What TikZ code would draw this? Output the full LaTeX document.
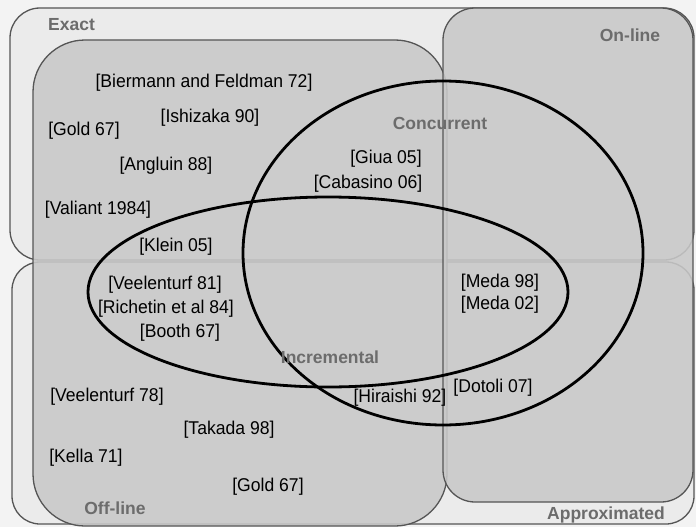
\documentclass[tikz,border=0pt]{standalone}
\usepackage{fontspec}
\setmainfont{Liberation Sans}
\newfontfamily\citefnt[FakeStretch=0.95]{Liberation Sans}
\definecolor{bgc}{HTML}{F3F3F3}
\definecolor{framefill}{HTML}{EBEBEB}
\definecolor{regfill}{HTML}{C8C8C8}
\definecolor{edgec}{HTML}{555555}
\definecolor{labc}{HTML}{6C6C6C}
\begin{document}
\begin{tikzpicture}[x=1pt,y=-1pt,
  frame/.style={draw=edgec, line width=1.3pt, fill=framefill},
  region/.style={draw=edgec, line width=1.3pt, fill=regfill, fill opacity=0.88},
  setc/.style={draw=black, line width=2.8pt},
  cit/.style={font=\citefnt\fontsize{18.5}{20}\selectfont, text=black, inner sep=0pt},
  lab/.style={font=\fontsize{17.5}{20}\selectfont\bfseries, text=labc, inner sep=0pt}]
\fill[bgc] (0,0) rectangle (696,527);
\useasboundingbox (0,0) rectangle (696,527);
% outer frames
\draw[frame, rounded corners=30pt] (10,8) rectangle (694,260);
\draw[frame, rounded corners=28pt] (12,262) rectangle (694,524);
% gray regions
\draw[region, rounded corners=52pt] (33,40) rectangle (447,526);
\draw[region, rounded corners=32pt] (443,8) rectangle (693,502);
% ellipses
\draw[setc] (443,253) ellipse [x radius=200pt, y radius=172pt];
\draw[setc] (328,292) ellipse [x radius=240pt, y radius=95pt];
% region labels
\node[lab, anchor=west] (exact) at (48,25) {Exact};
\node[lab] (online) at (630,35) {On-line};
\node[lab] (concurrent) at (440,123) {Concurrent};
\node[lab] (incremental) at (330,357) {Incremental};
\node[lab] (offline) at (115,508) {Off-line};
\node[lab] (approx) at (606,515) {Approximated};
% citations
\node[cit] (bf) at (204,83) {[Biermann and Feldman 72]};
\node[cit] (ish) at (210,118) {[Ishizaka 90]};
\node[cit] (gold1) at (84,131) {[Gold 67]};
\node[cit] (ang) at (166,166) {[Angluin 88]};
\node[cit] (val) at (98,210) {[Valiant 1984]};
\node[cit] (klein) at (176,247) {[Klein 05]};
\node[cit] (giua) at (386,159) {[Giua 05]};
\node[cit] (cab) at (368,184) {[Cabasino 06]};
\node[cit] (vee81) at (165,285) {[Veelenturf 81]};
\node[cit] (rich) at (166,309) {[Richetin et al 84]};
\node[cit] (booth) at (180,333) {[Booth 67]};
\node[cit] (meda98) at (500,283) {[Meda 98]};
\node[cit] (meda02) at (500,305) {[Meda 02]};
\node[cit] (dotoli) at (493,388) {[Dotoli 07]};
\node[cit] (hira) at (400,398) {[Hiraishi 92]};
\node[cit] (vee78) at (107,397) {[Veelenturf 78]};
\node[cit] (takada) at (229,430) {[Takada 98]};
\node[cit] (kella) at (86,458) {[Kella 71]};
\node[cit] (gold2) at (268,487) {[Gold 67]};
\end{tikzpicture}
\end{document}
